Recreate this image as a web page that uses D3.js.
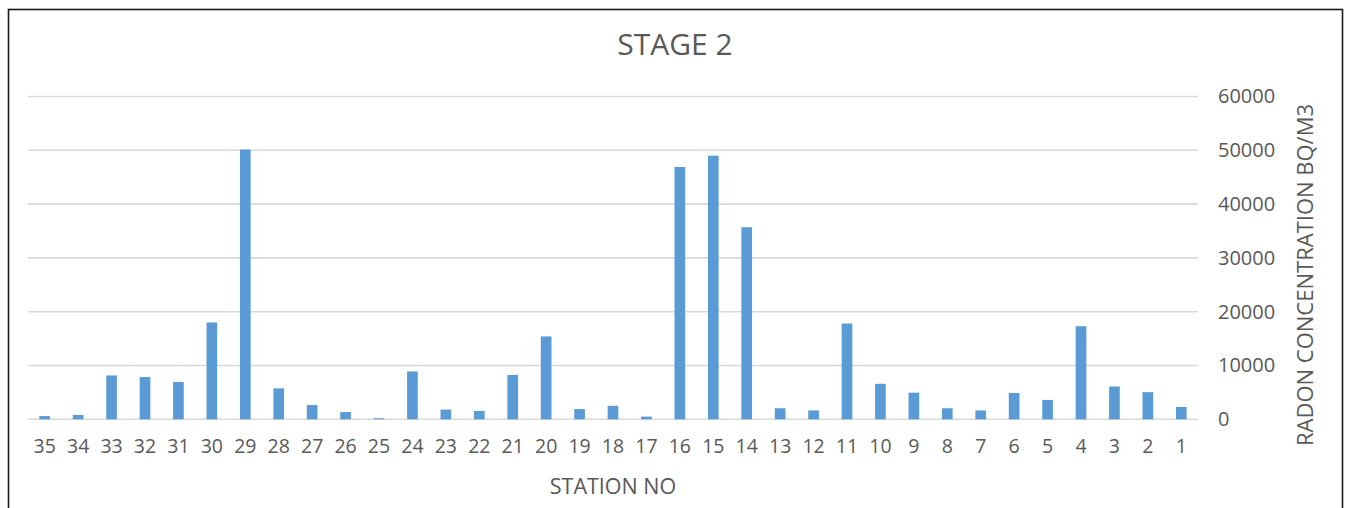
<!DOCTYPE html>
<html>
<head>
<meta charset="utf-8">
<script src="https://cdn.jsdelivr.net/npm/d3@7/dist/d3.min.js"></script>
<style>
  html, body { margin: 0; padding: 0; background: #fff; }
  svg { display: block; }
  text { font-family: "Open Sans", sans-serif; fill: #595959; }
</style>
</head>
<body>
<svg id="chart" width="1349" height="508"></svg>
<script>
const stations = ["35","34","33","32","31","30","29","28","27","26","25","24","23","22","21","20","19","18","17","16","15","14","13","12","11","10","9","8","7","6","5","4","3","2","1"];
const radon = [600, 800, 8150, 7850, 6950, 18000, 50150, 5750, 2650, 1350, 200, 8900, 1800, 1550, 8250, 15400, 1900, 2500, 500, 46900, 49000, 35700, 2050, 1650, 17800, 6600, 4950, 2050, 1650, 4900, 3600, 17300, 6100, 5050, 2300];
const yTicks = [0, 10000, 20000, 30000, 40000, 50000, 60000];
const title = "STAGE 2";
const xTitle = "STATION NO";
const yTitle = "RADON CONCENTRATION BQ/M3";

const svg = d3.select("#chart");
const plotLeft = 28, plotRight = 1198, plotTop = 96.5, plotBottom = 419.3;

// outer border
svg.append("rect")
  .attr("x", 8.5).attr("y", 9.5)
  .attr("width", 1334).attr("height", 700)
  .attr("fill", "none").attr("stroke", "#1a1a1a").attr("stroke-width", 1.6);

const x = d3.scaleBand().domain(stations).range([plotLeft, plotRight]).paddingInner(0.68).paddingOuter(0.34);
const y = d3.scaleLinear().domain([0, 60000]).range([plotBottom, plotTop]);

// gridlines
svg.append("g").selectAll("line").data(yTicks).join("line")
  .attr("x1", plotLeft).attr("x2", plotRight)
  .attr("y1", d => y(d)).attr("y2", d => y(d))
  .attr("stroke", "#d9d9d9").attr("stroke-width", 1.6);

// bars
svg.append("g").selectAll("rect").data(radon).join("rect")
  .attr("x", (d, i) => x(stations[i]))
  .attr("width", x.bandwidth())
  .attr("y", d => y(d))
  .attr("height", d => plotBottom - y(d))
  .attr("fill", "#5b9bd5");

// right y axis labels
const yAxis = d3.axisRight(y).tickValues(yTicks).tickFormat(d3.format("d")).tickSize(0).tickPadding(20);
const gy = svg.append("g").attr("transform", `translate(${plotRight},0)`).call(yAxis);
gy.select(".domain").remove();
gy.selectAll("text").style("font-family", "Open Sans, sans-serif").style("font-size", "20px").attr("fill", "#595959");

// x axis labels
const xAxis = d3.axisBottom(x).tickSize(0).tickPadding(20);
const gx = svg.append("g").attr("transform", `translate(0,${plotBottom})`).call(xAxis);
gx.select(".domain").remove();
gx.selectAll("text").style("font-family", "Open Sans, sans-serif").style("font-size", "19.5px").attr("fill", "#595959");

// title
svg.append("text").attr("x", 675).attr("y", 55).attr("text-anchor", "middle")
  .style("font-size", "30px").text(title);

// x title
svg.append("text").attr("x", (plotLeft + plotRight) / 2).attr("y", 494).attr("text-anchor", "middle")
  .style("font-size", "21.5px").text(xTitle);

// y title
svg.append("text").attr("transform", "translate(1313,275) rotate(-90)").attr("text-anchor", "middle")
  .style("font-size", "22px").text(yTitle);
</script>
</body>
</html>
